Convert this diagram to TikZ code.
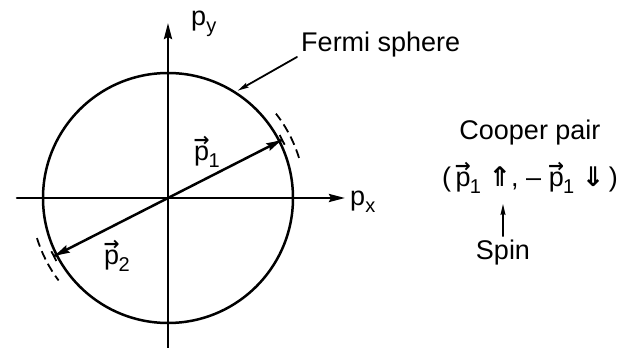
\documentclass[tikz,border=0pt]{standalone}
\usepackage{fontspec}
\setmainfont{Liberation Sans}
\newfontfamily\arrowfont{DejaVu Sans}
\usetikzlibrary{arrows.meta}

\newcommand{\sub}[1]{\raisebox{-0.5ex}{\fontsize{20}{20}\selectfont #1}}
\newcommand{\vecmark}{\makebox[0pt][l]{\kern-0.02em\raisebox{14pt}[0pt][0pt]{\fontsize{19}{19}\selectfont\arrowfont\bfseries →}}}
\newcommand{\pv}[1]{\vecmark p\kern-0.02em\sub{#1}}
\newcommand{\spinup}{{\arrowfont\bfseries ⇑}}
\newcommand{\spindown}{{\arrowfont\bfseries ⇓}}

\begin{document}
\begin{tikzpicture}[x=1pt, y=1pt, line width=2.5pt, line cap=round,
  every node/.style={font=\fontsize{27}{30}\selectfont, inner sep=0pt},
  axis/.style={-{Stealth[length=16pt,width=8pt,inset=2pt]}},
  momentum/.style={-{Stealth[length=15pt,width=8pt,inset=2pt] Bar[width=11pt,line width=1.8pt]}},
  leader/.style={line width=1.8pt, -{Stealth[length=11pt,width=5pt,inset=1.5pt]}},
  shell/.style={line width=1.8pt, dash pattern=on 9pt off 5pt, line cap=butt}]

\useasboundingbox (-168,-150) rectangle (457,198);

% ---------- Fermi sphere and axes ----------
\coordinate (O) at (0,0);
\draw (O) circle (125);
\draw[axis] (-151,0) -- (177,0);
\draw[axis] (0,-150) -- (0,175);
\node[anchor=west] (px) at (181,-4) {p\sub{x}};
\node[anchor=west] (py) at (22,174) {p\sub{y}};

% ---------- pair momenta ----------
\coordinate (tip1) at (27:129);
\coordinate (tip2) at (207:129);
\draw[momentum] (O) -- (tip1);
\draw[momentum] (O) -- (tip2);
\draw[shell] (17:137) arc (17:38:137);
\draw[shell] (197:137) arc (197:217:137);
\node (p1) at (39,41) {\pv{1}};
\node (p2) at (-51,-63) {\pv{2}};

% ---------- label of the sphere ----------
\node[anchor=west] (fermi) at (132,153) {Fermi sphere};
\coordinate (rim) at (57:128);
\draw[leader] (129,141) -- (rim);

% ---------- Cooper pair ----------
\node (cooper) at (362,65) {Cooper pair};
\node (pair) at (362,18) {(\,\pv{1} \spinup, -- \pv{1} \spindown\,)};
\node (spin) at (335,-55) {Spin};
\coordinate (spintip) at (335,-6);
\draw[leader, line width=1.4pt] (spin.north) ++(0,3) -- (spintip);

\end{tikzpicture}
\end{document}
